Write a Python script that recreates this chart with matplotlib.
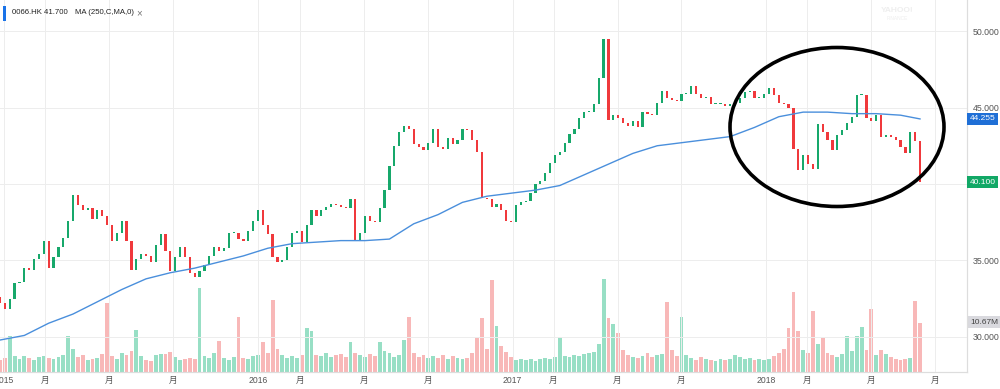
"""0066.HK weekly candles with 250-day MA and volume, Yahoo-style."""
import matplotlib

matplotlib.use("Agg")
import matplotlib.dates as mdates
import matplotlib.pyplot as plt
import numpy as np
import pandas as pd
from matplotlib.patches import Ellipse, Rectangle

# Weekly closes (first week ends 2014-12-26)
closes = [
    32.2, 31.8, 32.5, 33.5, 33.6, 34.5, 34.4, 35.1, 35.4, 36.3,
    34.5, 35.2, 35.9, 36.5, 37.6, 39.3, 38.6, 38.3, 38.4, 37.7,
    38.3, 37.9, 37.3, 36.3, 36.8, 37.6, 36.3, 34.4, 35.1, 35.4,
    35.3, 34.9, 36.0, 36.7, 35.6, 34.3, 35.2, 35.9, 35.2, 34.2,
    33.9, 34.3, 34.7, 35.3, 35.9, 35.6, 35.8, 36.8, 36.8, 36.4,
    36.3, 36.9, 37.6, 38.3, 37.3, 36.7, 35.2, 34.9, 35.0, 35.9,
    36.8, 36.9, 36.2, 37.3, 38.3, 37.9, 38.3, 38.5, 38.7, 38.6,
    38.5, 38.4, 39.0, 36.3, 36.8, 37.9, 37.6, 37.5, 38.4, 39.6,
    41.2, 42.5, 43.4, 43.8, 43.6, 42.6, 42.4, 42.2, 42.7, 43.6,
    42.4, 42.3, 43.0, 42.6, 42.9, 43.6, 43.5, 42.9, 42.1, 39.1,
    39.0, 38.5, 38.7, 38.3, 37.6, 37.5, 38.6, 38.8, 38.9, 39.4,
    40.0, 40.2, 40.7, 41.4, 41.9, 42.1, 42.7, 43.3, 43.6, 44.3,
    44.7, 44.7, 45.2, 46.9, 49.5, 44.2, 44.5, 44.3, 44.0, 43.8,
    44.1, 43.7, 44.7, 44.6, 44.5, 45.3, 46.1, 45.6, 45.5, 45.4,
    45.9, 45.9, 46.4, 45.9, 45.6, 45.7, 45.2, 45.2, 45.2, 45.1,
    45.2, 45.3, 45.6, 46.0, 46.1, 45.6, 45.6, 45.9, 46.3, 45.8,
    45.3, 45.2, 45.0, 42.3, 40.9, 41.9, 41.3, 41.0, 43.9, 43.4,
    42.9, 42.2, 43.2, 43.5, 44.0, 44.4, 45.8, 45.8, 44.3, 44.1,
    44.5, 43.1, 43.2, 43.1, 42.9, 42.4, 42.0, 43.4, 42.8, 40.1,
]
first_open = 32.6

# Volume in millions, one per candle
volumes = [
    2.6, 3.0, 7.7, 3.5, 2.8, 3.4, 3.0, 2.6, 3.2, 3.4,
    3.0, 2.7, 3.3, 3.6, 7.7, 5.0, 3.2, 3.6, 2.6, 2.8,
    3.0, 3.8, 14.7, 3.4, 2.8, 4.0, 3.6, 4.5, 9.0, 3.4,
    2.6, 2.4, 3.6, 3.9, 3.8, 4.2, 3.2, 2.6, 2.7, 3.0,
    2.8, 17.9, 3.4, 3.0, 4.0, 6.6, 3.0, 2.6, 3.2, 11.7,
    3.0, 2.8, 3.4, 3.6, 6.4, 4.0, 15.4, 5.0, 3.6, 3.0,
    3.4, 3.0, 3.6, 9.4, 8.7, 3.6, 3.4, 4.0, 3.2, 3.6,
    3.8, 3.2, 6.4, 4.0, 3.6, 3.2, 3.8, 3.4, 6.4, 4.4,
    4.0, 3.2, 3.6, 6.8, 11.7, 4.0, 3.2, 3.6, 3.0, 3.4,
    3.0, 3.6, 2.8, 3.4, 3.0, 2.8, 3.0, 4.0, 7.3, 11.5,
    5.0, 19.6, 9.8, 5.5, 4.2, 3.2, 2.6, 2.8, 2.6, 2.8,
    2.4, 2.8, 3.0, 2.8, 3.2, 7.5, 3.4, 3.2, 3.6, 3.4,
    3.8, 4.0, 4.2, 6.0, 19.8, 11.5, 10.2, 8.4, 4.6, 3.6,
    3.2, 3.0, 3.4, 4.0, 3.2, 3.6, 3.8, 14.9, 4.6, 3.4,
    11.7, 3.6, 3.0, 2.6, 3.2, 2.8, 2.6, 2.4, 2.8, 2.6,
    2.8, 3.6, 3.2, 2.8, 3.0, 2.6, 2.8, 2.6, 2.8, 3.4,
    4.0, 5.0, 9.4, 17.1, 8.7, 4.6, 4.0, 13.0, 6.0, 7.3,
    4.0, 3.6, 3.2, 3.8, 7.7, 4.4, 7.7, 9.6, 4.6, 13.4,
    3.6, 4.6, 3.8, 3.2, 2.8, 2.6, 2.8, 3.0, 15.2, 10.5,
]

# 250-day moving average, read every 5th candle
ma_index = [0, 5, 10, 15, 20, 25, 30, 35, 40, 45, 50, 55, 60, 65, 70, 75, 80, 85, 90,
            95, 100, 105, 110, 115, 120, 125, 130, 135, 140, 145, 150, 155, 160, 165,
            170, 175, 180, 185, 189]
ma_values = [29.8, 30.1, 30.9, 31.5, 32.3, 33.1, 33.8, 34.2, 34.5, 34.9, 35.3, 35.8,
             36.1, 36.2, 36.3, 36.3, 36.4, 37.4, 38.0, 38.8, 39.2, 39.4, 39.6, 39.9,
             40.6, 41.3, 42.0, 42.5, 42.7, 42.9, 43.1, 43.7, 44.4, 44.7, 44.7, 44.6,
             44.6, 44.5, 44.255]

price_ticks = [30, 35, 45, 50]
price_tick_labels = ["30.000", "35.000", "45.000", "50.000"]
date_ticks = ["2015-01-01", "2015-03-01", "2015-06-01", "2015-09-01",
              "2016-01-01", "2016-03-01", "2016-06-01", "2016-09-01",
              "2017-01-01", "2017-03-01", "2017-06-01", "2017-09-01",
              "2018-01-01", "2018-03-01", "2018-06-01", "2018-09-01"]
date_tick_labels = ["2015", "月", "月", "月", "2016", "月", "月", "月",
                    "2017", "月", "月", "月", "2018", "月", "月", "月"]

GREEN = "#17a86b"
RED = "#f0393c"
GRID = "#ededed"
TEXT = "#555555"

plt.rcParams["font.family"] = ["Liberation Sans", "Noto Sans CJK SC", "DejaVu Sans"]

dates = pd.date_range("2014-12-26", periods=len(closes), freq="7D")
x = mdates.date2num(dates)
closes_arr = np.array(closes)
opens_arr = np.concatenate([[first_open], closes_arr[:-1]])
up = closes_arr >= opens_arr

fig = plt.figure(figsize=(10, 3.89), dpi=100)
ax = fig.add_axes([0.0, 17 / 389, 0.967, 372 / 389])
axv = ax.twinx()
axv.set_zorder(0)
ax.set_zorder(1)
ax.patch.set_visible(False)

x0 = mdates.date2num(pd.Timestamp("2014-12-26"))
ax.set_xlim(x0, x0 + 967 / 0.6954)
ax.set_ylim(27.71, 52.03)
axv.set_ylim(0, 79.4)

# grid
for t in date_ticks:
    ax.axvline(mdates.date2num(pd.Timestamp(t)), color=GRID, lw=0.7, zorder=0)
for p in [30, 35, 40, 45, 50]:
    ax.axhline(p, color=GRID, lw=0.7, zorder=0)

# volume
vol_colors = np.where(up, "#33c08c", "#f27272")
axv.bar(x, volumes, width=5.5, color=vol_colors, alpha=0.5, linewidth=0)
axv.set_yticks([])

# candles
body_low = np.minimum(opens_arr, closes_arr)
body_h = np.maximum(np.abs(closes_arr - opens_arr), 0.07)
colors = np.where(up, GREEN, RED)
ax.bar(x, body_h, bottom=body_low, width=3.2, color=colors, linewidth=0, zorder=3)

# moving average
ax.plot(x[ma_index], ma_values, color="#4a8fdc", lw=1.0, zorder=4)

# axes styling
for s in ["top", "left"]:
    ax.spines[s].set_visible(False)
    axv.spines[s].set_visible(False)
for a in (ax, axv):
    a.spines["right"].set_color("#dddddd")
    a.spines["bottom"].set_color("#dddddd")
    a.spines["right"].set_linewidth(0.8)
    a.spines["bottom"].set_linewidth(0.8)

ax.yaxis.tick_right()
ax.set_yticks(price_ticks)
ax.set_yticklabels(price_tick_labels)
ax.tick_params(axis="y", length=0, pad=4, labelsize=6.3, labelcolor=TEXT)
ax.set_xticks([mdates.date2num(pd.Timestamp(t)) for t in date_ticks])
ax.set_xticklabels(date_tick_labels)
ax.tick_params(axis="x", length=0, pad=3, labelsize=6.2, labelcolor=TEXT)

# right side value tags
tag = dict(transform=ax.get_yaxis_transform(), ha="left", va="center",
           fontsize=6, clip_on=False, zorder=10)
ax.text(1.003, ma_values[-1], f"{ma_values[-1]:.3f}", color="white",
        bbox=dict(boxstyle="square,pad=0.3", fc="#1f6fd6", ec="none"), **tag)
ax.text(1.003, closes[-1], f"{closes[-1]:.3f}", color="white",
        bbox=dict(boxstyle="square,pad=0.3", fc="#12a866", ec="none"), **tag)
axv.text(1.003, 10.67, "10.67M", color="#444444", transform=axv.get_yaxis_transform(),
         ha="left", va="center", fontsize=6, clip_on=False, zorder=10,
         bbox=dict(boxstyle="square,pad=0.3", fc="#d9d9de", ec="none"))

# header
fig.add_artist(Rectangle((0.0025, 1 - 21 / 389), 0.003, 15 / 389, facecolor="#1a73e8",
                         edgecolor="none", transform=fig.transFigure, zorder=5))
fig.text(0.012, 1 - 13 / 389, "0066.HK 41.700", fontsize=5.6, color="#222222", va="center")
fig.text(0.075, 1 - 13 / 389, "MA (250,C,MA,0)", fontsize=5.6, color="#222222", va="center")
fig.text(0.136, 1 - 13 / 389, "×", fontsize=7, color="#777777", va="center")
fig.text(0.897, 1 - 11 / 389, "YAHOO!", fontsize=6, color="#eeeeee", ha="center",
         va="center", weight="bold")
fig.text(0.897, 1 - 19 / 389, "FINANCE", fontsize=3.5, color="#eeeeee", ha="center", va="center")

# highlight ellipse
fig.add_artist(Ellipse((0.837, 1 - 127 / 389), 0.214, 159 / 389, fill=False,
                       ec="black", lw=2.6, transform=fig.transFigure, zorder=20))

fig.savefig("out.png", dpi=100)
